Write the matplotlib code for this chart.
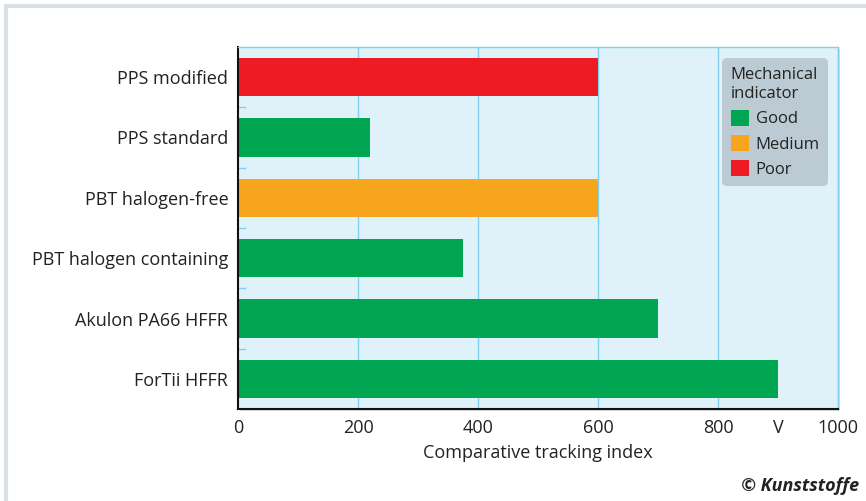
import matplotlib
matplotlib.use("Agg")
import matplotlib.pyplot as plt
from matplotlib.patches import Rectangle, Patch

categories = ["PPS modified", "PPS standard", "PBT halogen-free",
              "PBT halogen containing", "Akulon PA66 HFFR", "ForTii HFFR"]
values = [600, 220, 600, 375, 700, 900]
ratings = ["Poor", "Good", "Medium", "Good", "Good", "Good"]
colors = {"Good": "#00a651", "Medium": "#f7a51c", "Poor": "#ed1c24"}
xticks = [0, 200, 400, 600, 800, 900, 1000]
xticklabels = ["0", "200", "400", "600", "800", "V", "1000"]

plt.rcParams['font.family'] = ['Open Sans', 'DejaVu Sans']
fig = plt.figure(figsize=(8.66, 5.01), dpi=100)

# outer frame
fig.patches.append(Rectangle((6/866, -0.1), 1.2, 1 - 6/501 + 0.1, transform=fig.transFigure,
                             fill=False, edgecolor="#d9e0e6", linewidth=3, zorder=0))

ax = fig.add_axes([238/866, 1 - 409/501, 600/866, 362/501])
ax.set_facecolor("#dff2fa")
ax.set_xlim(0, 1000)
ax.set_ylim(5.5, -0.5)

for x in [200, 400, 600, 800, 1000]:
    ax.axvline(x, color="#7fd0ee", linewidth=1, zorder=1)

for i, (v, r) in enumerate(zip(values, ratings)):
    ax.barh(i, v, height=0.63, color=colors[r], zorder=2)

for y in [0.5, 1.5, 2.5, 3.5, 4.5]:
    ax.plot([0, 12], [y, y], color="#7fd0ee", linewidth=1, zorder=1, clip_on=False)

ax.set_yticks(range(len(categories)))
ax.set_yticklabels(categories, fontsize=13, color="#222222")
ax.tick_params(axis='y', length=0, pad=7)
ax.set_xticks(xticks)
ax.set_xticklabels(xticklabels, fontsize=13, color="#222222")
ax.tick_params(axis='x', length=0, pad=7)
ax.set_xlabel("Comparative tracking index", fontsize=13, color="#222222", labelpad=5)

for s in ["top", "right"]:
    ax.spines[s].set_color("#7fd0ee")
    ax.spines[s].set_linewidth(1)
for s in ["left", "bottom"]:
    ax.spines[s].set_color("#111111")
    ax.spines[s].set_linewidth(1.5)

# shadow
sh = Rectangle((238/866 + 2/866, 1 - 409/501 - 2/501), 600/866, 362/501,
               transform=fig.transFigure, facecolor="#c8c8c8", edgecolor="none",
               zorder=-1, alpha=0.6)
fig.patches.append(sh)

handles = [Patch(facecolor=colors[k], edgecolor="none", label=k) for k in ["Good", "Medium", "Poor"]]
leg = ax.legend(handles=handles, title="Mechanical\nindicator", loc="upper right",
                bbox_to_anchor=(0.993, 0.985), fontsize=12, title_fontsize=12,
                frameon=True, facecolor="#bccbd3", edgecolor="none", framealpha=1,
                handlelength=1.1, handleheight=1.1, handletextpad=0.4,
                borderpad=0.35, labelspacing=0.45, alignment="left")
leg.get_frame().set_boxstyle("round,pad=0.15,rounding_size=0.3")
leg.get_title().set_color("#222222")
leg.get_title().set_linespacing(1.3)
for t in leg.get_texts():
    t.set_color("#222222")

fig.text(0.992, 0.012, "© Kunststoffe", ha="right", va="bottom", fontsize=13,
         fontweight="bold", fontstyle="italic", color="#222222")

fig.savefig("out.png", dpi=100)
